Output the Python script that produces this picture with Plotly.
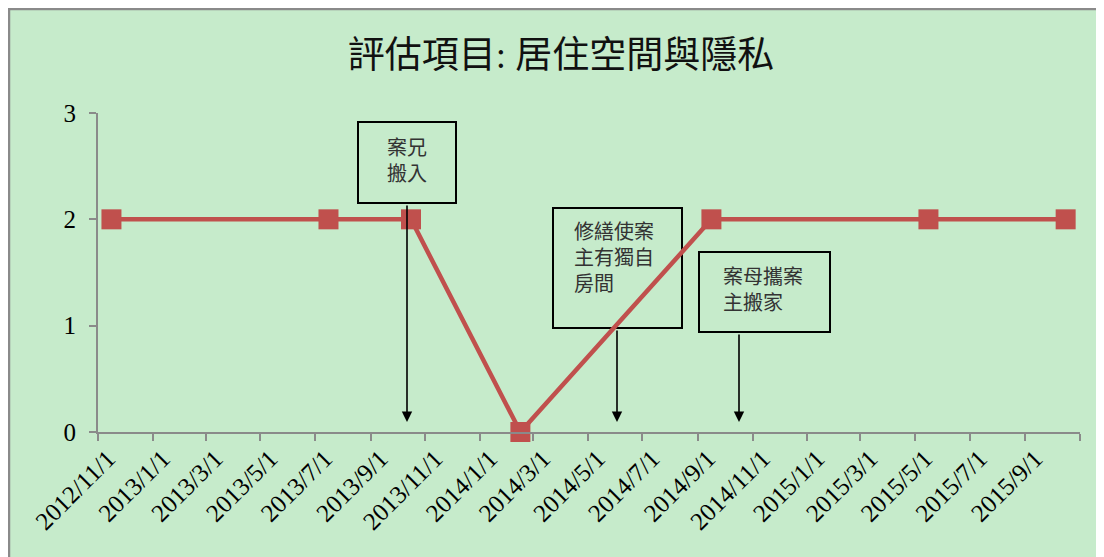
import plotly.graph_objects as go
import pandas as pd

# data (monthly buckets, plotted mid-month)
dates = ["2012-11-16", "2013-07-16", "2013-10-16", "2014-02-15",
         "2014-09-16", "2015-05-16", "2015-10-16"]
scores = [2, 2, 2, 0, 2, 2, 2]

tick_labels = ["2012/11/1", "2013/1/1", "2013/3/1", "2013/5/1", "2013/7/1",
               "2013/9/1", "2013/11/1", "2014/1/1", "2014/3/1", "2014/5/1",
               "2014/7/1", "2014/9/1", "2014/11/1", "2015/1/1", "2015/3/1",
               "2015/5/1", "2015/7/1", "2015/9/1"]
axis_end = "2015/11/1"

title = "評估項目: 居住空間與隱私"
notes = ["案兄<br>搬入", "修繕使案<br>主有獨自<br>房間", "案母攜案<br>主搬家"]

RED = "#C0504D"
GREEN = "#C6EBCB"
GRAY = "#8A8A8A"
SERIF = "Liberation Serif, Noto Sans CJK TC, serif"
CJK = "Noto Sans CJK TC, sans-serif"

W, H = 1104, 557
OFF = 8  # page body margin
L, R, T, B = 98 - OFF, W - 1080 + OFF, 113 - OFF, H - 432 + OFF
PW, PH = W - L - R, H - T - B


def px(x):
    return (x - OFF - L) / PW


def py(y):
    return (H - B - (y - OFF)) / PH


tickvals = [pd.to_datetime(t, format="%Y/%m/%d") for t in tick_labels + [axis_end]]
ticktext = tick_labels + [""]

fig = go.Figure()
fig.add_trace(
    go.Scatter(
        x=dates,
        y=scores,
        mode="lines+markers",
        line=dict(color=RED, width=4.5),
        marker=dict(symbol="square", size=20, color=RED),
        cliponaxis=False,
        showlegend=False,
    )
)

# chart area background with border
fig.add_shape(type="rect", xref="paper", yref="paper",
              x0=px(9), x1=px(1130), y0=py(600), y1=py(9),
              fillcolor=GREEN, line=dict(color=GRAY, width=2.5), layer="below")

# note boxes (the series line runs over them)
boxes = [(358, 122, 456, 203), (553, 208, 682, 328), (699, 252, 830, 332)]
for x0, y0, x1, y1 in boxes:
    fig.add_shape(type="rect", xref="paper", yref="paper",
                  x0=px(x0), x1=px(x1), y0=py(y1), y1=py(y0),
                  line=dict(color="black", width=2), layer="below")

text_pos = [(407, 130, "center", "center"), (572, 214, "left", "left"),
            (721, 259, "left", "left")]
for note, (x, y, xa, al) in zip(notes, text_pos):
    fig.add_annotation(text=note, xref="paper", yref="paper", x=px(x), y=py(y),
                       xanchor=xa, yanchor="top", align=al, showarrow=False,
                       font=dict(family=CJK, size=20, color="#333333"))

# arrows from boxes down to the axis
arrows = [(407, 204), (617, 329), (739, 333)]
for x, y0 in arrows:
    fig.add_annotation(text="", xref="paper", yref="paper", x=px(x), y=py(422),
                       ax=0, ay=-(422 - y0), showarrow=True, arrowhead=2,
                       arrowsize=1.3, arrowwidth=1.6, arrowcolor="black",
                       standoff=0, startstandoff=0)

fig.update_layout(
    width=W, height=H,
    margin=dict(l=L, r=R, t=T, b=B, autoexpand=False),
    paper_bgcolor="white",
    plot_bgcolor="rgba(0,0,0,0)",
    title=dict(text=title, x=(561 - OFF) / W, xanchor="center", y=1 - 47 / H,
               yanchor="middle", font=dict(family=SERIF, size=37, color="#111111")),
)
fig.update_xaxes(
    type="date", automargin=False,
    range=[tickvals[0], tickvals[-1]],
    tickvals=tickvals, ticktext=ticktext, tickangle=-45,
    ticklabelshift=10, ticklabelstandoff=-7,
    showgrid=False, zeroline=False,
    showline=True, linecolor=GRAY, linewidth=2,
    ticks="outside", ticklen=7, tickcolor=GRAY, tickwidth=2,
    tickfont=dict(family=SERIF, size=25, color="black"),
)
fig.update_yaxes(
    automargin=False,
    range=[0, 3], tickvals=[0, 1, 2, 3],
    ticklabelstandoff=8,
    showgrid=False, zeroline=False,
    showline=True, linecolor=GRAY, linewidth=2,
    ticks="outside", ticklen=7, tickcolor=GRAY, tickwidth=2,
    tickfont=dict(family=SERIF, size=25, color="black"),
)

fig.write_html("out.html")
